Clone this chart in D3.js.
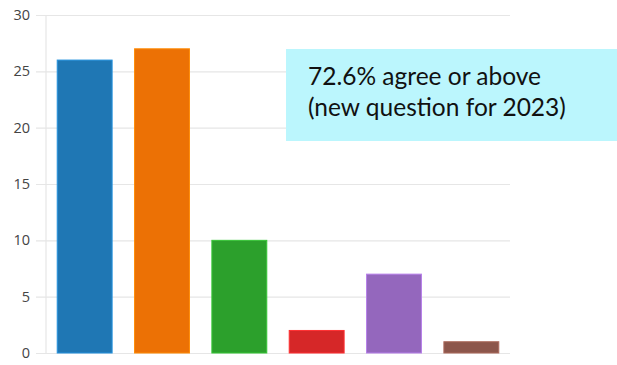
<!DOCTYPE html>
<html>
<head>
<meta charset="utf-8">
<script src="https://cdn.jsdelivr.net/npm/d3@7"></script>
<style>
  html, body { margin: 0; padding: 0; background: #fff; }
  svg { display: block; }
</style>
</head>
<body>
<svg id="chart" width="617" height="365"></svg>
<script>
// Response counts per answer option
const categories = ["Strongly agree", "Agree", "Neutral", "Disagree", "Strongly disagree", "N/A"];
const counts = [26, 27, 10, 2, 7, 1];
const barColors = ["#1f77b4", "#ec7105", "#2ca02c", "#d62728", "#9467bd", "#8c564b"];
const yTicks = [0, 5, 10, 15, 20, 25, 30];
const noteLines = ["72.6% agree or above", "(new question for 2023)"];

const svg = d3.select("#chart");

const x = d3.scaleBand()
  .domain(categories)
  .range([46, 510])
  .paddingInner(0.29)
  .paddingOuter(0.145);

const y = d3.scaleLinear()
  .domain([0, 30])
  .range([353, 15]);

// Horizontal grid lines with tick labels
const axis = d3.axisLeft(y)
  .tickValues(yTicks)
  .tickSize(-(510 - 36))
  .tickPadding(6);

const g = svg.append("g")
  .attr("transform", "translate(36,0)")
  .call(axis);
g.select(".domain").remove();
g.selectAll(".tick line").attr("stroke", "#e6e6e6").attr("stroke-width", 1.2);
g.selectAll(".tick text")
  .attr("fill", "#444")
  .attr("font-family", "'Open Sans', 'DejaVu Sans', sans-serif")
  .attr("font-size", 14.5);

// Vertical axis line
svg.append("line")
  .attr("x1", 46).attr("x2", 46)
  .attr("y1", y(30)).attr("y2", y(0))
  .attr("stroke", "#e6e6e6")
  .attr("stroke-width", 1.2);

// Bars
svg.append("g")
  .selectAll("rect")
  .data(counts)
  .join("rect")
  .attr("x", (d, i) => x(categories[i]))
  .attr("y", d => y(d))
  .attr("width", x.bandwidth())
  .attr("height", d => y(0) - y(d))
  .attr("fill", (d, i) => barColors[i])
  .attr("stroke", (d, i) => d3.color(barColors[i]).brighter(0.6))
  .attr("stroke-width", 1);

// Annotation box
const note = svg.append("g");
note.append("rect")
  .attr("x", 286).attr("y", 49)
  .attr("width", 331).attr("height", 92)
  .attr("fill", "#bbf6fd");
note.selectAll("text")
  .data(noteLines)
  .join("text")
  .attr("x", 308)
  .attr("y", (d, i) => 85 + i * 31)
  .attr("fill", "#111")
  .attr("font-family", "Lato, 'Open Sans', sans-serif")
  .attr("font-size", 24.5)
  .text(d => d);
</script>
</body>
</html>
